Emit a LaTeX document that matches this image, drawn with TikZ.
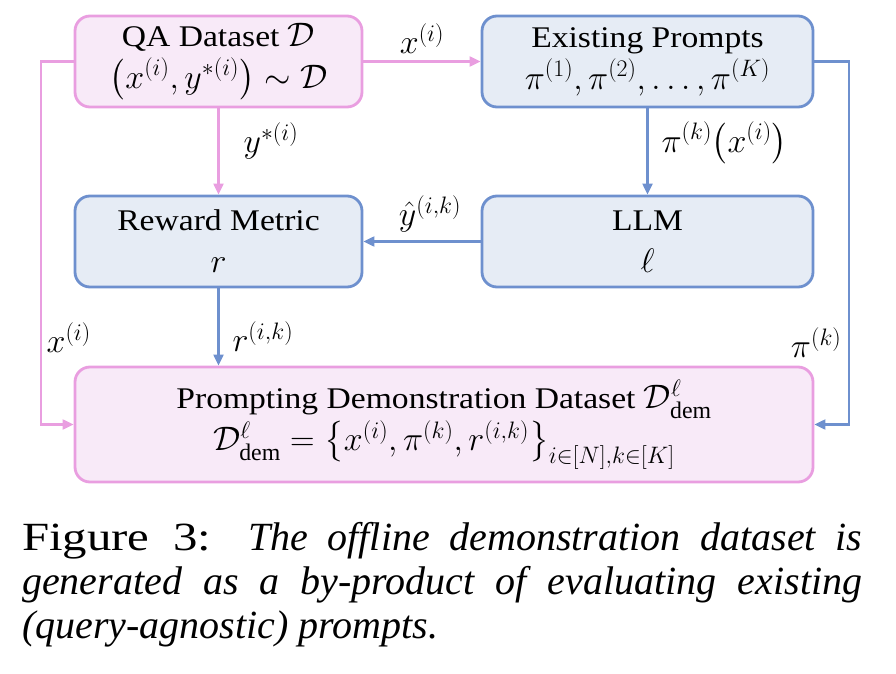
\documentclass[tikz,border=0pt]{standalone}
\usepackage{fix-cm}
\usepackage{amsmath,amssymb}
\usepackage{fontspec}
\setmainfont{Liberation Serif}
\newfontfamily\boxfont[FakeStretch=1.12]{Liberation Serif}
\newfontfamily\figfont[FakeStretch=1.22]{Liberation Serif}
\usetikzlibrary{arrows.meta,positioning}
\definecolor{pinkline}{RGB}{233,158,224}
\definecolor{pinkfill}{RGB}{248,234,248}
\definecolor{blueline}{RGB}{110,144,206}
\definecolor{bluefill}{RGB}{230,236,245}
\newcommand{\mth}[1]{{\fontsize{34}{42}\selectfont$#1$}}
\tikzset{
  boxbase/.style={rectangle, rounded corners=15pt, line width=2.8pt, align=center,
    inner sep=0pt, font=\boxfont\fontsize{30}{42}\selectfont},
  pinkbox/.style={boxbase, draw=pinkline, fill=pinkfill},
  bluebox/.style={boxbase, draw=blueline, fill=bluefill},
  pinkarrow/.style={draw=pinkline, line width=2.1pt, -{Triangle[length=11pt,width=10pt]}},
  bluearrow/.style={draw=blueline, line width=2.1pt, -{Triangle[length=11pt,width=10pt]}},
  lbl/.style={font=\fontsize{34}{38}\selectfont, inner sep=0pt}
}
\begin{document}
\begin{tikzpicture}[x=1pt,y=-1pt]
\useasboundingbox (0,0) rectangle (896,674);
\node[pinkbox, minimum width=287pt, minimum height=91pt] (qa) at (218.5,61.5)
  {QA Dataset \mth{\mathcal{D}}\\ \mth{\big(x^{(i)}, y^{*(i)}\big)\sim\mathcal{D}}};
\node[bluebox, minimum width=331pt, minimum height=91pt] (ep) at (647.5,61.5)
  {Existing Prompts\\ \mth{\pi^{(1)},\pi^{(2)},\dots,\pi^{(K)}}};
\node[bluebox, minimum width=287pt, minimum height=91pt] (rm) at (218.5,241.5)
  {Reward Metric\\ \mth{r}};
\node[bluebox, minimum width=331pt, minimum height=91pt] (llm) at (647.5,241.5)
  {LLM\\ \mth{\ell}};
\node[pinkbox, minimum width=738pt, minimum height=115pt, font=\boxfont\fontsize{30}{46}\selectfont] (demo) at (444,424.5)
  {Prompting Demonstration Dataset \mth{\mathcal{D}^{\ell}_{\mathrm{dem}}}\\[-4pt]
   \mth{\mathcal{D}^{\ell}_{\mathrm{dem}}=\big\{x^{(i)},\pi^{(k)},r^{(i,k)}\big\}_{i\in[N],k\in[K]}}};

\draw[pinkarrow] (qa.east) -- node[lbl, above=7pt] {$x^{(i)}$} (ep.west);
\draw[pinkarrow] (qa.south) -- node[lbl, pos=0.38, right=24pt] {$y^{*(i)}$} (rm.north);
\draw[bluearrow] (ep.south) -- node[lbl, pos=0.4, right=13pt] {$\pi^{(k)}\big(x^{(i)}\big)$} (llm.north);
\draw[bluearrow] (llm.west) -- node[lbl, above=8pt, xshift=8pt] {$\hat{y}^{(i,k)}$} (rm.east);
\draw[bluearrow] (rm.south) -- node[lbl, pos=0.62, right=13pt] {$r^{(i,k)}$} (rm.south |- demo.north);
\draw[pinkarrow] (qa.west) -- ++(-33,0) |- node[lbl, pos=0.38, right=5pt] {$x^{(i)}$} (demo.west);
\draw[bluearrow] (ep.east) -- ++(35,0) |- node[lbl, pos=0.387, left=7pt] {$\pi^{(k)}$} (demo.east);

\node[anchor=north west, inner sep=0pt, text width=840pt, align=justify,
  font=\fontsize{40}{44}\selectfont] (cap) at (22,522)
  {{\figfont Figure 3:}\hspace{0.1em} \textit{The offline demonstration dataset is\linebreak
   generated as a by-product of evaluating existing\linebreak
   (query-agnostic) prompts.}};
\end{tikzpicture}
\end{document}
